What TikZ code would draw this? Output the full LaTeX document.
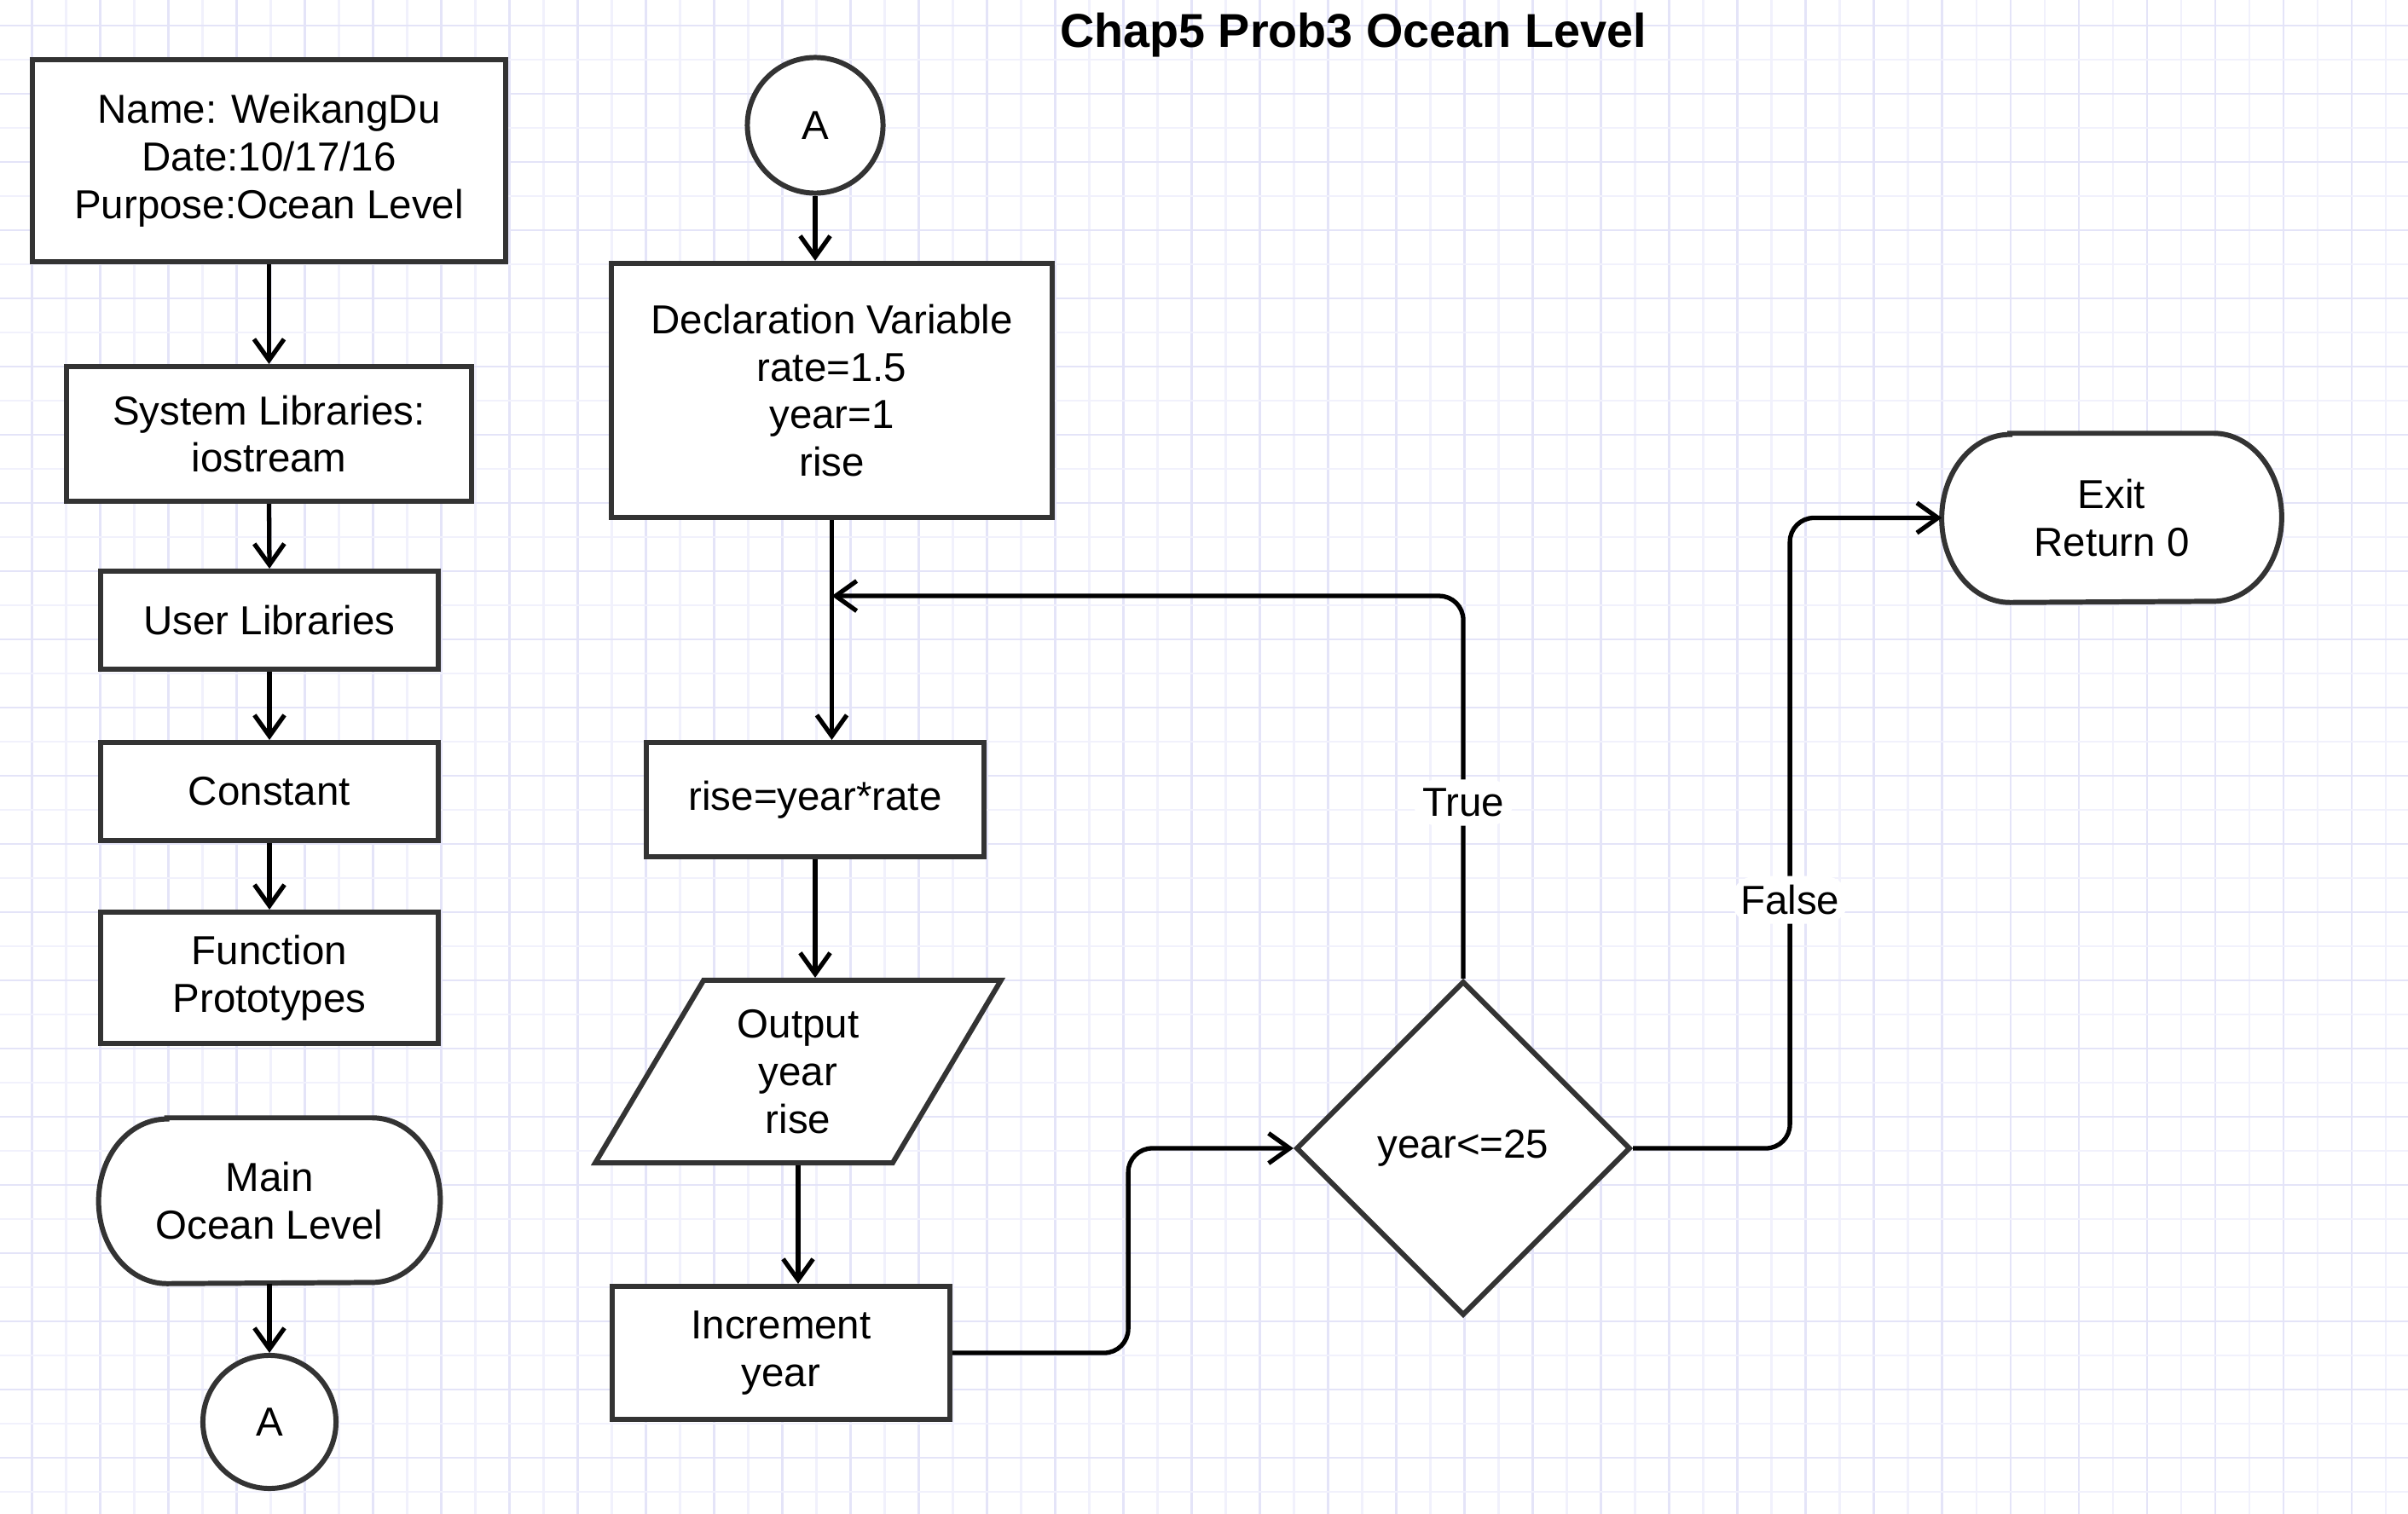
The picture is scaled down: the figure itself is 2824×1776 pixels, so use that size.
\documentclass[tikz,border=0pt]{standalone}
\usepackage{fontspec}
\setmainfont{Liberation Sans}
\usetikzlibrary{arrows.meta,calc,shapes.geometric}
\definecolor{gridA}{RGB}{228,228,248}
\definecolor{gridB}{RGB}{241,241,252}
\definecolor{edgecol}{RGB}{51,51,51}
\newcommand\mytxt{\fontsize{13.5}{15.9}\selectfont}
\newcommand\mytitle{\fontsize{15.85}{19}\selectfont\bfseries}
\pgfdeclarelayer{gridlayer}
\pgfdeclarelayer{shapelayer}
\pgfsetlayers{gridlayer,shapelayer,main}
\begin{document}
\begin{tikzpicture}[x=0.01cm,y=-0.01cm,
  box/.style={draw=edgecol, fill=white, line width=1.7pt, align=center, inner sep=0pt, font=\mytxt},
  ghost/.style={draw=none, inner sep=0pt, align=center, font=\mytxt},
  termline/.style={draw=edgecol, fill=white, line width=1.7pt},
  conn/.style={line width=1.5pt, -{Straight Barb[length=7pt,width=10pt]}, rounded corners=8pt},
  lbl/.style={fill=white, font=\mytxt, inner sep=3pt}]
\useasboundingbox (0,0) rectangle (2824,1776);
\begin{pgfonlayer}{gridlayer}
\fill[white] (0,0) rectangle (2824,1776);
\foreach \k in {0,...,69}{
  \pgfmathtruncatemacro\m{mod(\k,2)}
  \ifnum\m=0 \def\gc{gridA}\else\def\gc{gridB}\fi
  \draw[line width=0.7pt,\gc] ({37.7+40*\k},0) -- ({37.7+40*\k},1776);
}
\foreach \k in {0,...,43}{
  \pgfmathtruncatemacro\m{mod(\k,2)}
  \ifnum\m=0 \def\gc{gridA}\else\def\gc{gridB}\fi
  \draw[line width=0.7pt,\gc] (0,{30+40*\k}) -- (2824,{30+40*\k});
}
\end{pgfonlayer}

% title
\node[font=\mytitle, anchor=base, inner sep=0pt] (title) at (1587,56) {Chap5 Prob3 Ocean Level};

% left column
\node[box, minimum width=5.55cm, minimum height=2.37cm] (info) at (315.5,188.5) {Name: WeikangDu\\Date:10/17/16\\Purpose:Ocean Level};
\node[box, minimum width=4.75cm, minimum height=1.58cm] (syslib) at (315.5,509) {System Libraries:\\iostream};
\node[box, minimum width=3.96cm, minimum height=1.15cm] (userlib) at (316,727.5) {User Libraries};
\node[box, minimum width=3.96cm, minimum height=1.15cm] (const) at (316,928.5) {Constant};
\node[box, minimum width=3.96cm, minimum height=1.54cm] (proto) at (316,1147) {Function\\Prototypes};
\node[ghost, minimum width=3.99cm, minimum height=1.93cm] (main) at (316,1408.5) {Main\\Ocean Level};
\node[box, circle, minimum size=1.56cm] (ca) at (316,1668) {A};

% middle column
\node[box, circle, minimum size=1.59cm] (ta) at (956,147) {A};
\node[box, minimum width=5.17cm, minimum height=2.98cm] (decl) at (975.5,458) {Declaration Variable\\rate=1.5\\year=1\\rise};
\node[box, minimum width=3.96cm, minimum height=1.34cm] (rise) at (956,938) {rise=year*rate};
\node[box, trapezium, trapezium left angle=60.7, trapezium right angle=119.3, trapezium stretches=true, minimum width=4.76cm, minimum height=2.14cm] (out) at (936,1257) {Output\\year\\rise};
\node[box, minimum width=3.96cm, minimum height=1.56cm] (inc) at (916,1587) {Increment\\year};

% decision and exit
\node[box, diamond, minimum width=3.92cm, minimum height=3.92cm] (dec) at (1716,1347) {year<=25};
\node[ghost, minimum width=3.97cm, minimum height=1.97cm] (exit) at (2476.5,607.5) {Exit\\Return 0};

% terminator outlines
\begin{pgfonlayer}{shapelayer}
\path[termline] ($(main.north west)+(80,0)$) -- ($(main.north east)+(-80,0)$)
  arc[start angle=90, end angle=-90, x radius=0.8cm, y radius=0.965cm]
  -- ($(main.south west)+(80,0)$)
  arc[start angle=270, end angle=90, x radius=0.8cm, y radius=0.965cm] -- cycle;
\path[termline] ($(exit.north west)+(80,0)$) -- ($(exit.north east)+(-80,0)$)
  arc[start angle=90, end angle=-90, x radius=0.8cm, y radius=0.985cm]
  -- ($(exit.south west)+(80,0)$)
  arc[start angle=270, end angle=90, x radius=0.8cm, y radius=0.985cm] -- cycle;
\end{pgfonlayer}

% connectors left
\draw[conn] (info.south) -- (syslib.north);
\draw[conn] (syslib.south) -- (userlib.north);
\draw[conn] (userlib.south) -- (const.north);
\draw[conn] (const.south) -- (proto.north);
\draw[conn] (main.south) -- (ca.north);

% connectors middle
\draw[conn] (ta.south) -- (ta.south |- decl.north);
\draw[conn] (decl.south) -- (decl.south |- rise.north);
\draw[conn] (rise.south) -- (rise.south |- out.north);
\draw[conn] (out.center |- out.south) -- (out.center |- inc.north);
\draw[conn] (inc.east) -- ++(206,0) |- (dec.west);
\draw[conn] (dec.north) |- node[lbl, pos=0.230] {True} ($(decl.south)+(0,89)$);
\draw[conn] (dec.east) -- ++(184,0) |- node[lbl, pos=0.197] {False} (exit.west);
\end{tikzpicture}
\end{document}
